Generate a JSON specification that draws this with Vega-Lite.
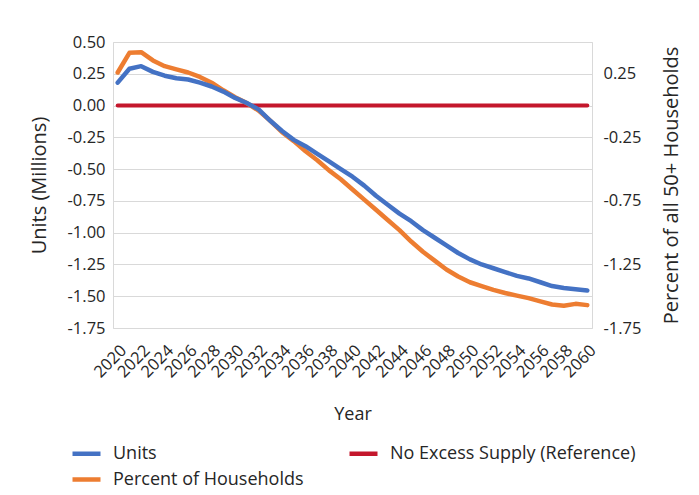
{
  "$schema": "https://vega.github.io/schema/vega-lite/v6.json",
  "autosize": {"type": "none"},
  "width": 479,
  "height": 286,
  "padding": {"left": 113, "top": 42, "right": 107, "bottom": 167},
  "background": "white",
  "config": {
    "font": "Open Sans",
    "view": {"stroke": "#D9D9D9", "strokeWidth": 1},
    "axis": {"labelColor": "#262626", "titleColor": "#262626", "titleFontWeight": "normal", "labelFontSize": 16.5, "titleFontSize": 18, "domain": false, "ticks": false, "gridColor": "#D9D9D9", "gridWidth": 1},
    "legend": {"labelFontSize": 18, "labelColor": "#262626", "padding": 0, "labelLimit": 0}
  },
  "data": {"values": [
    {"year": 2020, "series": "Units", "value": 0.18},
    {"year": 2021, "series": "Units", "value": 0.29},
    {"year": 2022, "series": "Units", "value": 0.31},
    {"year": 2023, "series": "Units", "value": 0.265},
    {"year": 2024, "series": "Units", "value": 0.235},
    {"year": 2025, "series": "Units", "value": 0.215},
    {"year": 2026, "series": "Units", "value": 0.205},
    {"year": 2027, "series": "Units", "value": 0.18},
    {"year": 2028, "series": "Units", "value": 0.15},
    {"year": 2029, "series": "Units", "value": 0.11},
    {"year": 2030, "series": "Units", "value": 0.06},
    {"year": 2031, "series": "Units", "value": 0.02},
    {"year": 2032, "series": "Units", "value": -0.03},
    {"year": 2033, "series": "Units", "value": -0.12},
    {"year": 2034, "series": "Units", "value": -0.2},
    {"year": 2035, "series": "Units", "value": -0.27},
    {"year": 2036, "series": "Units", "value": -0.32},
    {"year": 2037, "series": "Units", "value": -0.38},
    {"year": 2038, "series": "Units", "value": -0.44},
    {"year": 2039, "series": "Units", "value": -0.5},
    {"year": 2040, "series": "Units", "value": -0.56},
    {"year": 2041, "series": "Units", "value": -0.63},
    {"year": 2042, "series": "Units", "value": -0.71},
    {"year": 2043, "series": "Units", "value": -0.78},
    {"year": 2044, "series": "Units", "value": -0.85},
    {"year": 2045, "series": "Units", "value": -0.91},
    {"year": 2046, "series": "Units", "value": -0.98},
    {"year": 2047, "series": "Units", "value": -1.04},
    {"year": 2048, "series": "Units", "value": -1.1},
    {"year": 2049, "series": "Units", "value": -1.16},
    {"year": 2050, "series": "Units", "value": -1.21},
    {"year": 2051, "series": "Units", "value": -1.25},
    {"year": 2052, "series": "Units", "value": -1.28},
    {"year": 2053, "series": "Units", "value": -1.31},
    {"year": 2054, "series": "Units", "value": -1.34},
    {"year": 2055, "series": "Units", "value": -1.36},
    {"year": 2056, "series": "Units", "value": -1.39},
    {"year": 2057, "series": "Units", "value": -1.42},
    {"year": 2058, "series": "Units", "value": -1.435},
    {"year": 2059, "series": "Units", "value": -1.445},
    {"year": 2060, "series": "Units", "value": -1.455},
    {"year": 2020, "series": "Percent of Households", "value": 0.26},
    {"year": 2021, "series": "Percent of Households", "value": 0.415},
    {"year": 2022, "series": "Percent of Households", "value": 0.42},
    {"year": 2023, "series": "Percent of Households", "value": 0.355},
    {"year": 2024, "series": "Percent of Households", "value": 0.31},
    {"year": 2025, "series": "Percent of Households", "value": 0.285},
    {"year": 2026, "series": "Percent of Households", "value": 0.26},
    {"year": 2027, "series": "Percent of Households", "value": 0.225},
    {"year": 2028, "series": "Percent of Households", "value": 0.18},
    {"year": 2029, "series": "Percent of Households", "value": 0.12},
    {"year": 2030, "series": "Percent of Households", "value": 0.065},
    {"year": 2031, "series": "Percent of Households", "value": 0.02},
    {"year": 2032, "series": "Percent of Households", "value": -0.04},
    {"year": 2033, "series": "Percent of Households", "value": -0.12},
    {"year": 2034, "series": "Percent of Households", "value": -0.21},
    {"year": 2035, "series": "Percent of Households", "value": -0.28},
    {"year": 2036, "series": "Percent of Households", "value": -0.36},
    {"year": 2037, "series": "Percent of Households", "value": -0.43},
    {"year": 2038, "series": "Percent of Households", "value": -0.51},
    {"year": 2039, "series": "Percent of Households", "value": -0.58},
    {"year": 2040, "series": "Percent of Households", "value": -0.66},
    {"year": 2041, "series": "Percent of Households", "value": -0.74},
    {"year": 2042, "series": "Percent of Households", "value": -0.82},
    {"year": 2043, "series": "Percent of Households", "value": -0.9},
    {"year": 2044, "series": "Percent of Households", "value": -0.98},
    {"year": 2045, "series": "Percent of Households", "value": -1.07},
    {"year": 2046, "series": "Percent of Households", "value": -1.15},
    {"year": 2047, "series": "Percent of Households", "value": -1.22},
    {"year": 2048, "series": "Percent of Households", "value": -1.29},
    {"year": 2049, "series": "Percent of Households", "value": -1.345},
    {"year": 2050, "series": "Percent of Households", "value": -1.39},
    {"year": 2051, "series": "Percent of Households", "value": -1.42},
    {"year": 2052, "series": "Percent of Households", "value": -1.45},
    {"year": 2053, "series": "Percent of Households", "value": -1.475},
    {"year": 2054, "series": "Percent of Households", "value": -1.495},
    {"year": 2055, "series": "Percent of Households", "value": -1.515},
    {"year": 2056, "series": "Percent of Households", "value": -1.54},
    {"year": 2057, "series": "Percent of Households", "value": -1.565},
    {"year": 2058, "series": "Percent of Households", "value": -1.575},
    {"year": 2059, "series": "Percent of Households", "value": -1.56},
    {"year": 2060, "series": "Percent of Households", "value": -1.57},
    {"year": 2020, "series": "No Excess Supply (Reference)", "value": 0},
    {"year": 2021, "series": "No Excess Supply (Reference)", "value": 0},
    {"year": 2022, "series": "No Excess Supply (Reference)", "value": 0},
    {"year": 2023, "series": "No Excess Supply (Reference)", "value": 0},
    {"year": 2024, "series": "No Excess Supply (Reference)", "value": 0},
    {"year": 2025, "series": "No Excess Supply (Reference)", "value": 0},
    {"year": 2026, "series": "No Excess Supply (Reference)", "value": 0},
    {"year": 2027, "series": "No Excess Supply (Reference)", "value": 0},
    {"year": 2028, "series": "No Excess Supply (Reference)", "value": 0},
    {"year": 2029, "series": "No Excess Supply (Reference)", "value": 0},
    {"year": 2030, "series": "No Excess Supply (Reference)", "value": 0},
    {"year": 2031, "series": "No Excess Supply (Reference)", "value": 0},
    {"year": 2032, "series": "No Excess Supply (Reference)", "value": 0},
    {"year": 2033, "series": "No Excess Supply (Reference)", "value": 0},
    {"year": 2034, "series": "No Excess Supply (Reference)", "value": 0},
    {"year": 2035, "series": "No Excess Supply (Reference)", "value": 0},
    {"year": 2036, "series": "No Excess Supply (Reference)", "value": 0},
    {"year": 2037, "series": "No Excess Supply (Reference)", "value": 0},
    {"year": 2038, "series": "No Excess Supply (Reference)", "value": 0},
    {"year": 2039, "series": "No Excess Supply (Reference)", "value": 0},
    {"year": 2040, "series": "No Excess Supply (Reference)", "value": 0},
    {"year": 2041, "series": "No Excess Supply (Reference)", "value": 0},
    {"year": 2042, "series": "No Excess Supply (Reference)", "value": 0},
    {"year": 2043, "series": "No Excess Supply (Reference)", "value": 0},
    {"year": 2044, "series": "No Excess Supply (Reference)", "value": 0},
    {"year": 2045, "series": "No Excess Supply (Reference)", "value": 0},
    {"year": 2046, "series": "No Excess Supply (Reference)", "value": 0},
    {"year": 2047, "series": "No Excess Supply (Reference)", "value": 0},
    {"year": 2048, "series": "No Excess Supply (Reference)", "value": 0},
    {"year": 2049, "series": "No Excess Supply (Reference)", "value": 0},
    {"year": 2050, "series": "No Excess Supply (Reference)", "value": 0},
    {"year": 2051, "series": "No Excess Supply (Reference)", "value": 0},
    {"year": 2052, "series": "No Excess Supply (Reference)", "value": 0},
    {"year": 2053, "series": "No Excess Supply (Reference)", "value": 0},
    {"year": 2054, "series": "No Excess Supply (Reference)", "value": 0},
    {"year": 2055, "series": "No Excess Supply (Reference)", "value": 0},
    {"year": 2056, "series": "No Excess Supply (Reference)", "value": 0},
    {"year": 2057, "series": "No Excess Supply (Reference)", "value": 0},
    {"year": 2058, "series": "No Excess Supply (Reference)", "value": 0},
    {"year": 2059, "series": "No Excess Supply (Reference)", "value": 0},
    {"year": 2060, "series": "No Excess Supply (Reference)", "value": 0}
  ]},
  "encoding": {
    "x": {
      "field": "year", "type": "ordinal",
      "scale": {"type": "point", "padding": 0.4},
      "axis": {
        "title": "Year",
        "values": [2020, 2022, 2024, 2026, 2028, 2030, 2032, 2034, 2036, 2038, 2040, 2042, 2044, 2046, 2048, 2050, 2052, 2054, 2056, 2058, 2060],
        "labelAngle": -45, "labelAlign": "right", "labelBaseline": "top", "labelPadding": 14,
        "labelFontSize": 16.5, "titlePadding": 25, "grid": false
      }
    },
    "color": {
      "field": "series", "type": "nominal",
      "scale": {
        "domain": ["Units", "No Excess Supply (Reference)", "Percent of Households"],
        "range": ["#4472C4", "#C4172C", "#ED7D31"]
      },
      "legend": {
        "title": null, "orient": "none", "legendX": -43, "legendY": 395,
        "direction": "horizontal", "columns": 2, "columnPadding": 36, "rowPadding": 0,
        "symbolType": "stroke", "symbolSize": 784, "symbolStrokeWidth": 4.5, "labelOffset": 10, "labelLimit": 0
      }
    }
  },
  "layer": [
    {
      "transform": [{"filter": "datum.series === 'No Excess Supply (Reference)'"}],
      "mark": {"type": "line", "strokeWidth": 4, "strokeCap": "round"},
      "encoding": {
        "y": {
          "field": "value", "type": "quantitative",
          "scale": {"domain": [-1.75, 0.5], "nice": false, "zero": false},
          "axis": {
            "title": "Units (Millions)", "orient": "left", "titleFontSize": 20,
            "values": [-1.75, -1.5, -1.25, -1, -0.75, -0.5, -0.25, 0, 0.25, 0.5],
            "labelExpr": "replace(format(datum.value, '.2f'), '\u2212', '-')",
            "labelPadding": 8, "titlePadding": 18, "grid": true
          }
        }
      }
    },
    {
      "transform": [{"filter": "datum.series === 'Percent of Households'"}],
      "mark": {"type": "line", "strokeWidth": 4.5, "strokeCap": "round", "strokeJoin": "round"},
      "encoding": {
        "y": {
          "field": "value", "type": "quantitative",
          "axis": {
            "title": "Percent of all 50+ Households", "orient": "right", "titleFontSize": 20,
            "values": [-1.75, -1.25, -0.75, -0.25, 0.25],
            "labelExpr": "replace(format(datum.value, '.2f'), '\u2212', '-')",
            "labelPadding": 11, "titlePadding": 21, "titleAngle": 270, "titleBaseline": "top", "grid": false
          }
        }
      }
    },
    {
      "transform": [{"filter": "datum.series === 'Units'"}],
      "mark": {"type": "line", "strokeWidth": 4.5, "strokeCap": "round", "strokeJoin": "round"},
      "encoding": {
        "y": {"field": "value", "type": "quantitative", "axis": null}
      }
    }
  ],
  "resolve": {"axis": {"y": "independent"}}
}
